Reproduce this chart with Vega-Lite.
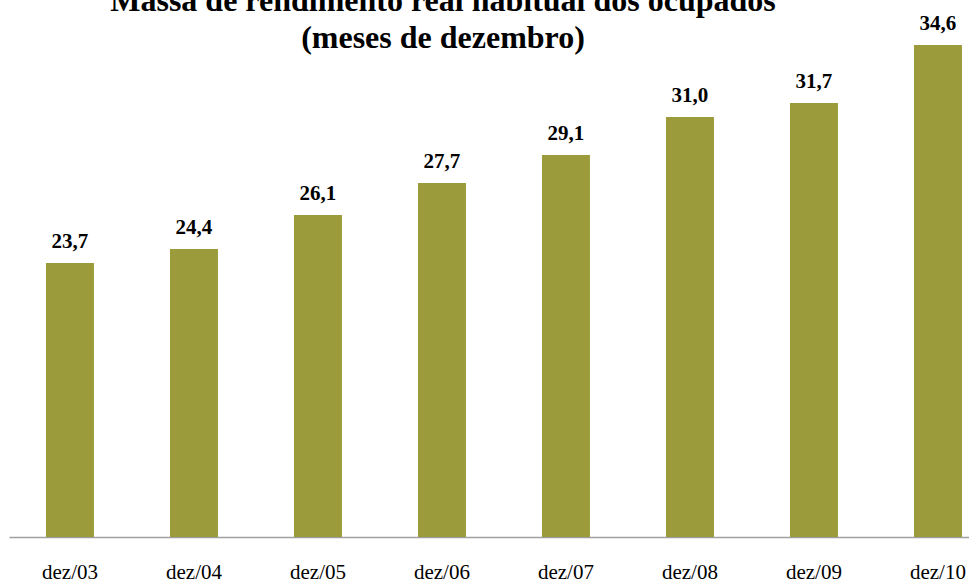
{
  "$schema": "https://vega.github.io/schema/vega-lite/v6.json",
  "autosize": {"type": "none"},
  "padding": {"left": 9, "top": 17, "right": 0, "bottom": 46},
  "width": 960,
  "height": 520,
  "background": "white",
  "title": {
    "text": ["Massa de rendimento real habitual dos ocupados", "(meses de dezembro)"],
    "font": "Liberation Serif",
    "fontSize": 32,
    "fontWeight": "bold",
    "color": "#000000",
    "lineHeight": 37,
    "baseline": "alphabetic",
    "anchor": "middle",
    "frame": "group",
    "offset": 0,
    "dx": -46,
    "dy": 67
  },
  "data": {
    "values": [
      {"mes": "dez/03", "valor": 23.7},
      {"mes": "dez/04", "valor": 24.4},
      {"mes": "dez/05", "valor": 26.1},
      {"mes": "dez/06", "valor": 27.7},
      {"mes": "dez/07", "valor": 29.1},
      {"mes": "dez/08", "valor": 31.0},
      {"mes": "dez/09", "valor": 31.7},
      {"mes": "dez/10", "valor": 34.6}
    ]
  },
  "encoding": {
    "x": {
      "field": "mes",
      "type": "ordinal",
      "sort": null,
      "scale": {"paddingInner": 0.613, "paddingOuter": 0.1775, "align": 0.84},
      "axis": {
        "title": null,
        "labelAngle": 0,
        "labelFont": "Liberation Serif",
        "labelFontSize": 21,
        "labelColor": "#000000",
        "labelPadding": 24,
        "ticks": false,
        "tickSize": 0,
        "domainColor": "#a0a0a0",
        "domainWidth": 1.5,
        "grid": false
      }
    },
    "y": {
      "field": "valor",
      "type": "quantitative",
      "scale": {"domain": [10, 36], "nice": false, "zero": false},
      "axis": null
    }
  },
  "layer": [
    {"mark": {"type": "bar", "color": "#9c9b3b", "clip": true}},
    {
      "mark": {
        "type": "text",
        "font": "Liberation Serif",
        "fontSize": 21,
        "fontWeight": "bold",
        "color": "#000000",
        "baseline": "alphabetic",
        "dy": -15
      },
      "encoding": {
        "text": {"field": "valor", "type": "quantitative", "format": ".1f"}
      }
    }
  ],
  "config": {
    "view": {"stroke": null},
    "axis": {"labelFont": "Liberation Serif"},
    "locale": {
      "number": {"decimal": ",", "thousands": ".", "grouping": [3], "currency": ["R$", ""]}
    }
  }
}
